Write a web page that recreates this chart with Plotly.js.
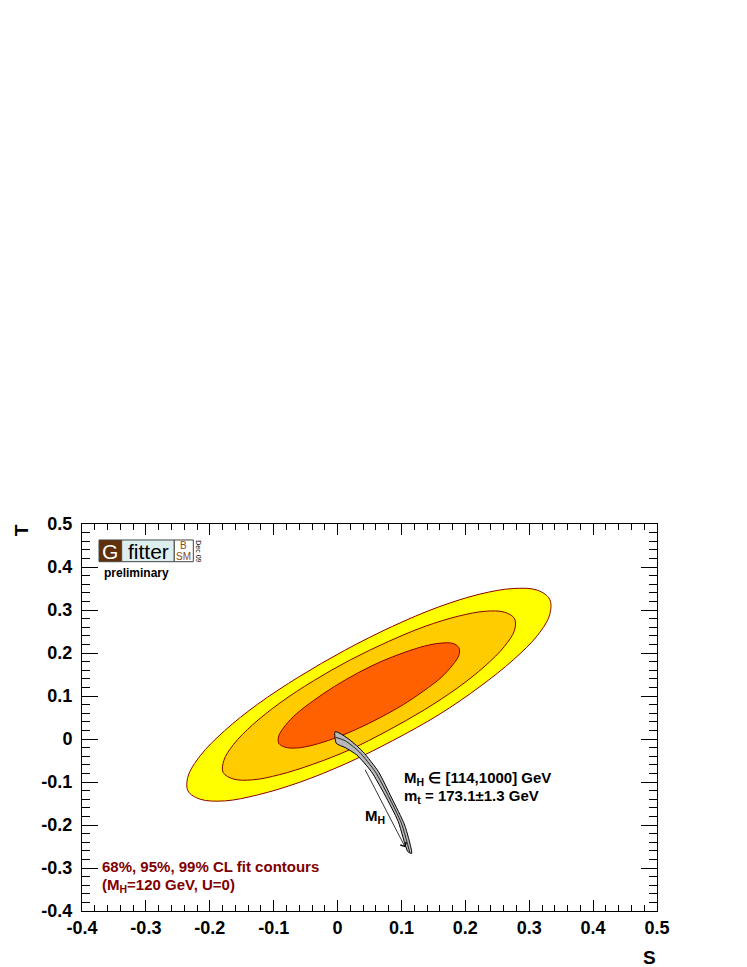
<!DOCTYPE html>
<html>
<head>
<meta charset="utf-8">
<script src="https://cdn.plot.ly/plotly-3.0.1.min.js"></script>
<style>html,body{margin:0;padding:0;background:#fff;}#chart{width:747px;height:967px;}</style>
</head>
<body>
<div id="chart"></div>
<script>
// ---- data (S, T) ----
const cl99S = [0.086, 0.012, -0.060, -0.125, -0.177, -0.215, -0.234, -0.234, -0.215, -0.177, -0.125, -0.060, 0.011, 0.086, 0.158, 0.223, 0.275, 0.313, 0.332, 0.332, 0.313, 0.275, 0.223, 0.159, 0.086];
const cl99T = [-0.004, -0.058, -0.101, -0.130, -0.144, -0.140, -0.121, -0.087, -0.039, 0.019, 0.081, 0.145, 0.206, 0.262, 0.307, 0.337, 0.350, 0.346, 0.325, 0.289, 0.241, 0.184, 0.122, 0.057, -0.004];

const cl95S = [0.078, 0.019, -0.039, -0.091, -0.133, -0.163, -0.179, -0.178, -0.163, -0.133, -0.090, -0.038, 0.020, 0.080, 0.137, 0.190, 0.231, 0.261, 0.277, 0.277, 0.261, 0.231, 0.188, 0.136, 0.078];
const cl95T = [0.019, -0.025, -0.059, -0.083, -0.095, -0.093, -0.078, -0.050, -0.013, 0.033, 0.084, 0.135, 0.184, 0.227, 0.262, 0.286, 0.297, 0.295, 0.280, 0.253, 0.215, 0.170, 0.119, 0.068, 0.019];

const cl68S = [0.067, 0.030, -0.006, -0.038, -0.064, -0.082, -0.092, -0.092, -0.082, -0.064, -0.037, -0.005, 0.031, 0.068, 0.104, 0.136, 0.162, 0.181, 0.190, 0.190, 0.180, 0.162, 0.135, 0.103, 0.067];
const cl68T = [0.050, 0.023, 0.001, -0.014, -0.021, -0.019, -0.010, 0.007, 0.031, 0.059, 0.090, 0.122, 0.153, 0.180, 0.201, 0.216, 0.223, 0.222, 0.212, 0.195, 0.172, 0.143, 0.112, 0.080, 0.050];

// SM prediction band (M_H from 114 to 1000 GeV, m_t range)
const bandUpperS = [-0.004, 0.004, 0.020, 0.040, 0.064, 0.085, 0.105, 0.116];
const bandUpperT = [0.017, 0.013, -0.003, -0.030, -0.076, -0.138, -0.200, -0.266];
const bandLowerS = [-0.002, 0.012, 0.030, 0.053, 0.074, 0.095, 0.110];
const bandLowerT = [-0.010, -0.020, -0.037, -0.076, -0.130, -0.192, -0.262];
const bandMidS = [-0.003, 0.012, 0.034, 0.059, 0.080, 0.100, 0.113];
const bandMidT = [0.004, -0.004, -0.030, -0.076, -0.134, -0.196, -0.264];

// M_H arrow (start, end)
const arrowS = [0.042, 0.106];
const arrowT = [-0.068, -0.252];

// axis ticks
const xTickVals = [-0.4, -0.3, -0.2, -0.1, 0, 0.1, 0.2, 0.3, 0.4, 0.5];
const xTickText = ["-0.4", "-0.3", "-0.2", "-0.1", "0", "0.1", "0.2", "0.3", "0.4", "0.5"];
const yTickVals = [-0.4, -0.3, -0.2, -0.1, 0, 0.1, 0.2, 0.3, 0.4, 0.5];
const yTickText = ["-0.4", "-0.3", "-0.2", "-0.1", "0", "0.1", "0.2", "0.3", "0.4", "0.5"];

// ---- build ----
const FONT = "'Liberation Sans', Arial, Helvetica, sans-serif";
const EDGE = "#8b0000";

function contour(xs, ys, fill) {
  return {x: xs, y: ys, type: "scatter", mode: "lines", fill: "toself", fillcolor: fill,
          line: {color: EDGE, width: 1, shape: "spline", smoothing: 1}, hoverinfo: "skip", showlegend: false};
}

const bandS = bandUpperS.concat(bandLowerS.slice().reverse(), [bandUpperS[0]]);
const bandT = bandUpperT.concat(bandLowerT.slice().reverse(), [bandUpperT[0]]);

const traces = [
  contour(cl99S, cl99T, "#ffff00"),
  contour(cl95S, cl95T, "#ffcc00"),
  contour(cl68S, cl68T, "#ff6000"),
  {x: bandS, y: bandT, type: "scatter", mode: "lines", fill: "toself", fillcolor: "#b8b8b8",
   line: {color: "#000", width: 1, shape: "spline", smoothing: 0.6}, hoverinfo: "skip", showlegend: false},
  {x: bandMidS, y: bandMidT, type: "scatter", mode: "lines",
   line: {color: "#000", width: 0.8, shape: "spline", smoothing: 0.6}, hoverinfo: "skip", showlegend: false}
];

const axisCommon = {
  showgrid: false, zeroline: false, showline: true, linecolor: "#000", linewidth: 1,
  mirror: "allticks", ticks: "inside", tickcolor: "#000", tickwidth: 1,
  tickmode: "array",
  tickfont: {family: FONT, size: 18, color: "#000", weight: "bold"}
};

function paperText(x, y, text, font, extra) {
  return Object.assign({xref: "paper", yref: "paper", x: x, y: y, xanchor: "center", yanchor: "middle",
                        text: text, showarrow: false, font: font}, extra || {});
}

const layout = {
  width: 747, height: 967,
  margin: {l: 82, r: 90, t: 524, b: 56, pad: 0},
  paper_bgcolor: "#fff", plot_bgcolor: "#fff",
  showlegend: false,
  xaxis: Object.assign({}, axisCommon, {
    range: [-0.4, 0.5], tickvals: xTickVals, ticktext: xTickText, ticklen: 11, ticklabelstandoff: 0,
    minor: {tickmode: "linear", tick0: 0, dtick: 0.02, ticks: "inside", ticklen: 6, tickcolor: "#000", tickwidth: 1, showgrid: false}
  }),
  yaxis: Object.assign({}, axisCommon, {
    range: [-0.4, 0.5], tickvals: yTickVals, ticktext: yTickText, ticklen: 16, ticklabelstandoff: 5,
    minor: {tickmode: "linear", tick0: 0, dtick: 0.02, ticks: "inside", ticklen: 8, tickcolor: "#000", tickwidth: 1, showgrid: false}
  }),
  shapes: [
    {type: "rect", xref: "paper", yref: "paper", x0: 0.0296, x1: 0.069, y0: 0.9026, y1: 0.9587,
     fillcolor: "#60300a", line: {color: "#444", width: 1}, layer: "below"},
    {type: "rect", xref: "paper", yref: "paper", x0: 0.069, x1: 0.1605, y0: 0.9026, y1: 0.9587,
     fillcolor: "#dceeee", line: {color: "#444", width: 1}, layer: "below"},
    {type: "rect", xref: "paper", yref: "paper", x0: 0.1605, x1: 0.1936, y0: 0.9026, y1: 0.9587,
     fillcolor: "#ffffff", line: {color: "#444", width: 1}, layer: "below"}
  ],
  annotations: [
    // axis titles
    paperText(0.9878, -0.1189, "S", {family: FONT, size: 19, color: "#000", weight: "bold"}),
    paperText(-0.104, 0.9845, "T", {family: FONT, size: 19, color: "#000", weight: "bold"}, {textangle: -90}),
    // logo
    paperText(0.0493, 0.9302, "G", {family: FONT, size: 21, color: "#fff"}),
    paperText(0.1148, 0.9302, "fitter", {family: FONT, size: 21, color: "#000"}),
    paperText(0.1770, 0.9445, "B", {family: FONT, size: 10, color: "#8b4a14"}),
    paperText(0.1770, 0.9160, "SM", {family: FONT, size: 10, color: "#8b4a14"}),
    paperText(0.2030, 0.9302, "Dec 09", {family: FONT, size: 7, color: "#000"}, {textangle: 90}),
    paperText(0.0343, 0.8734, "preliminary", {family: FONT, size: 12, color: "#000", weight: "bold"}, {xanchor: "left"}),
    // band labels
    {xref: "x", yref: "y", x: 0.1003, y: -0.0907, xanchor: "left", yanchor: "middle", text: "M<sub>H</sub> ∈ [114,1000] GeV", showarrow: false,
     font: {family: FONT, size: 15, color: "#000", weight: "bold"}},
    {xref: "x", yref: "y", x: 0.1003, y: -0.134, xanchor: "left", yanchor: "middle", text: "m<sub>t</sub> = 173.1±1.3 GeV", showarrow: false,
     font: {family: FONT, size: 15, color: "#000", weight: "bold"}},
    {xref: "x", yref: "y", x: 0.0585, y: -0.181, xanchor: "center", yanchor: "middle", text: "M<sub>H</sub>", showarrow: false,
     font: {family: FONT, size: 15, color: "#000", weight: "bold"}},
    {xref: "x", yref: "y", axref: "x", ayref: "y", x: arrowS[1], y: arrowT[1], ax: arrowS[0], ay: arrowT[0],
     text: "", showarrow: true, arrowhead: 4, arrowsize: 1.6, arrowwidth: 0.8, arrowcolor: "#000", standoff: 0, startstandoff: 0},
    // contour legend text
    {xref: "x", yref: "y", x: -0.3715, y: -0.296, xanchor: "left", yanchor: "middle", text: "68%, 95%, 99% CL fit contours", showarrow: false,
     font: {family: FONT, size: 15, color: "#800000", weight: "bold"}},
    {xref: "x", yref: "y", x: -0.3715, y: -0.340, xanchor: "left", yanchor: "middle", text: "(M<sub>H</sub>=120 GeV, U=0)", showarrow: false,
     font: {family: FONT, size: 15, color: "#800000", weight: "bold"}}
  ]
};

Plotly.newPlot("chart", traces, layout, {staticPlot: true, displayModeBar: false});
</script>
</body>
</html>
